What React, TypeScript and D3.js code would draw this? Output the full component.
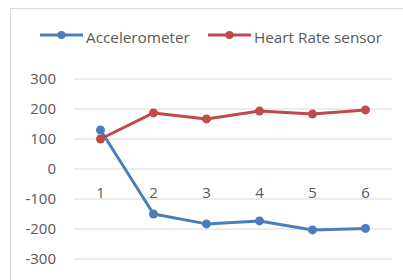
import React from "react";
import * as d3 from "d3";

const categories = ["1", "2", "3", "4", "5", "6"];
const accelerometer = [130, -150, -183, -173, -203, -198];
const heartRate = [100, 187, 167, 193, 183, 197];
const yTicks = [300, 200, 100, 0, -100, -200, -300];

const series = [
  { name: "Accelerometer", values: accelerometer, color: "#4A7EBB" },
  { name: "Heart Rate sensor", values: heartRate, color: "#BE4B48" },
];

const W = 403;
const H = 280;
const font = "'Open Sans', sans-serif";

const App = () => {
  const x = d3
    .scaleBand<string>()
    .domain(categories)
    .range([74, 392]);
  const y = d3.scaleLinear().domain([-300, 300]).range([259, 79]);

  const line = d3
    .line<number>()
    .x((_, i) => (x(categories[i]) as number) + x.bandwidth() / 2)
    .y((d) => y(d));

  const legendX = [40, 208];

  return (
    <svg
      width={W}
      height={H}
      style={{ position: "absolute", left: 0, top: 0, background: "#fff" }}
    >
      <rect x={10.5} y={8.5} width={W} height={H} fill="#fff" stroke="#d9d9d9" />

      {/* legend */}
      {series.map((s, i) => (
        <g key={s.name} transform={`translate(${legendX[i]},35)`}>
          <line x1={0} x2={43} y1={0} y2={0} stroke={s.color} strokeWidth={3} />
          <circle cx={21.5} cy={0} r={4} fill={s.color} />
          <text x={46} y={7.5} fontFamily={font} fontSize={15.3} fill="#595959">
            {s.name}
          </text>
        </g>
      ))}

      {/* gridlines */}
      {yTicks.map((t) => (
        <g key={t}>
          <line
            x1={74}
            x2={392}
            y1={y(t)}
            y2={y(t)}
            stroke="#d9d9d9"
            strokeWidth={1}
          />
          <text
            x={56}
            y={y(t) + 4.5}
            textAnchor="end"
            fontFamily={font}
            fontSize={15}
            fill="#595959"
          >
            {t}
          </text>
        </g>
      ))}

      {/* category labels */}
      {categories.map((c) => (
        <text
          key={c}
          x={(x(c) as number) + x.bandwidth() / 2}
          y={y(0) + 29}
          textAnchor="middle"
          fontFamily={font}
          fontSize={15}
          fill="#595959"
        >
          {c}
        </text>
      ))}

      {series.map((s) => (
        <g key={s.name}>
          <path
            d={line(s.values) as string}
            fill="none"
            stroke={s.color}
            strokeWidth={3}
            strokeLinejoin="round"
          />
          {s.values.map((v, i) => (
            <circle
              key={i}
              cx={(x(categories[i]) as number) + x.bandwidth() / 2}
              cy={y(v)}
              r={4.5}
              fill={s.color}
            />
          ))}
        </g>
      ))}
    </svg>
  );
};

export default App;
